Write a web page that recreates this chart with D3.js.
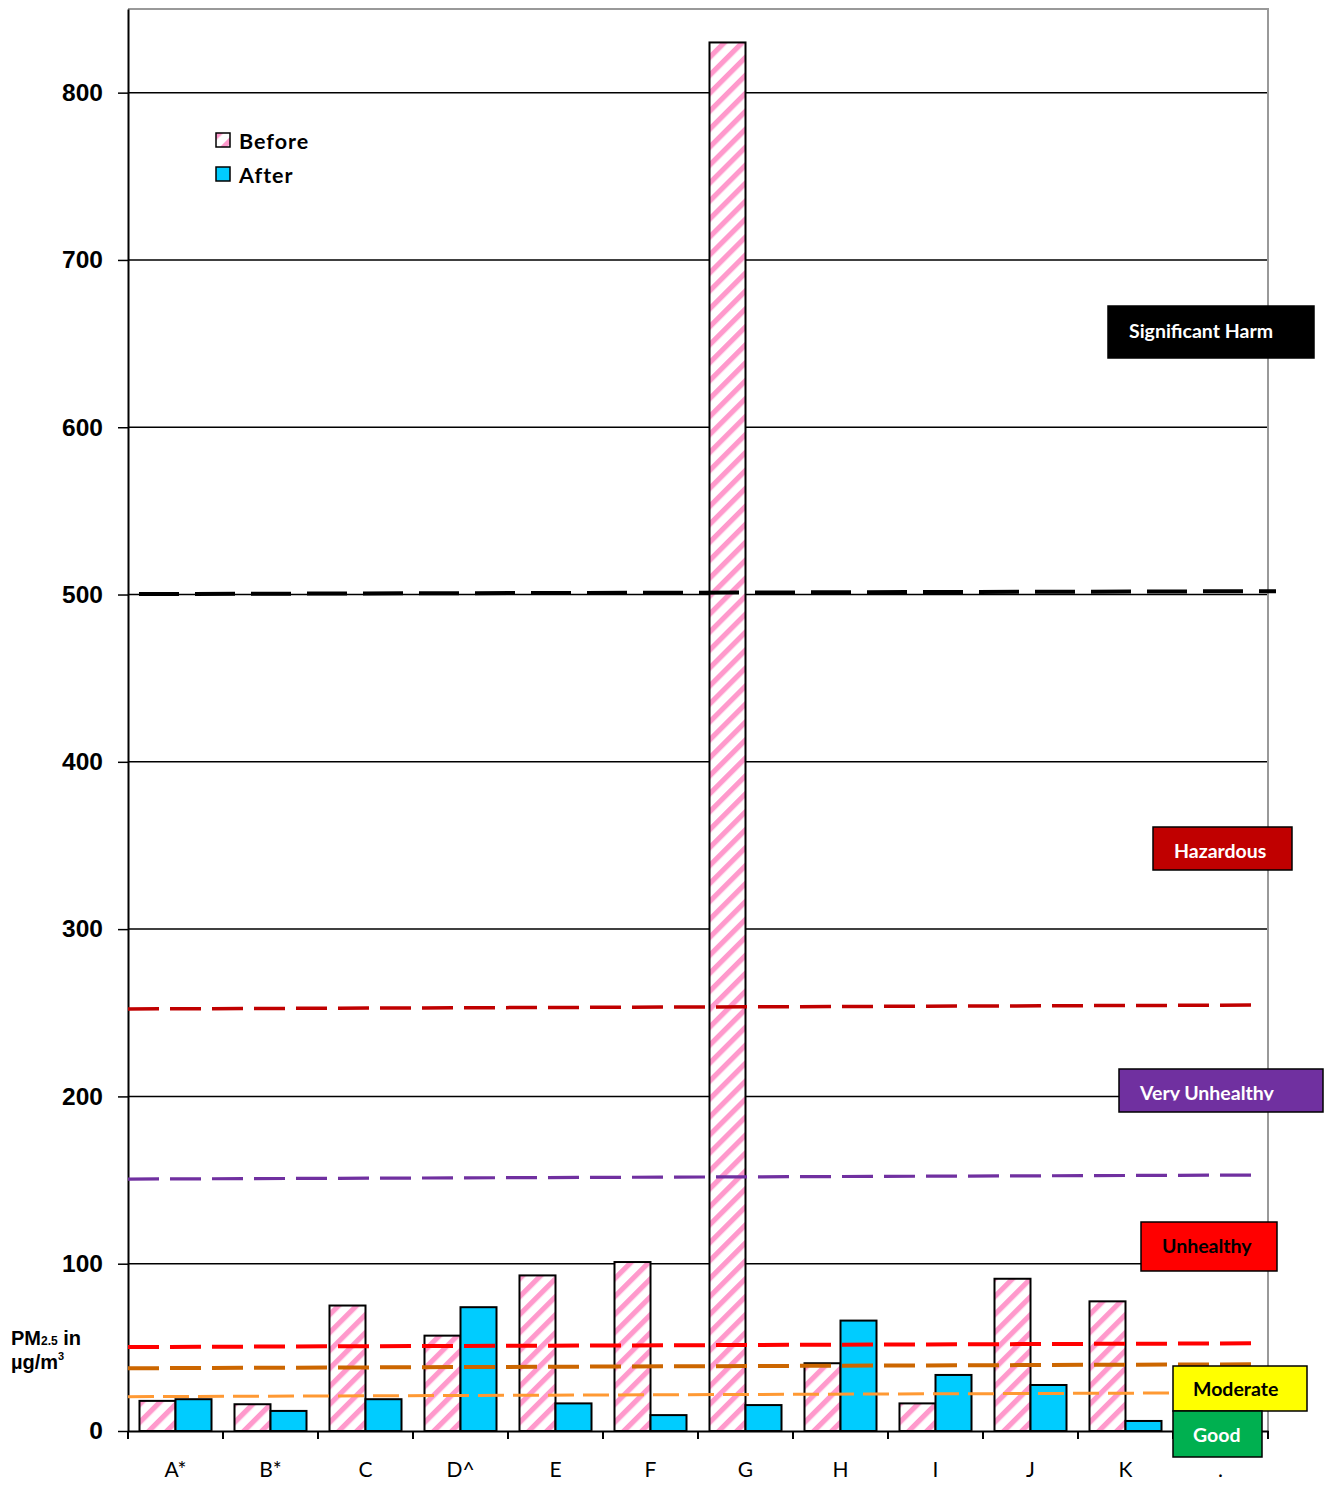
<!DOCTYPE html>
<html>
<head>
<meta charset="utf-8">
<style>
  body { margin: 0; background: #fff; }
</style>
</head>
<body>
<script src="https://cdnjs.cloudflare.com/ajax/libs/d3/7.8.5/d3.min.js"></script>
<svg id="chart" width="1328" height="1485"></svg>
<script>
// PM2.5 readings, before and after, per site
const sites = ['A*', 'B*', 'C', 'D^', 'E', 'F', 'G', 'H', 'I', 'J', 'K', '.'];
const before = [18, 16, 75, 57, 93, 101, 830, 40.5, 16.5, 91, 77.5, null];
const after = [19, 12, 19, 74, 16.5, 9.5, 15.5, 66, 33.5, 27.5, 6, null];
const yTicks = [0, 100, 200, 300, 400, 500, 600, 700, 800];

// breakpoint lines: value at the left end and at the right end (they drift a little)
const lineStart = [500.3, 252.3, 150.6, 50.2, 37.5, 20.5];
const lineEnd = [502, 254.6, 153, 52.4, 39.9, 22.9];

// category boxes
const levels = ['Significant Harm', 'Hazardous', 'Very Unhealthy', 'Unhealthy', 'Moderate', 'Good'];

// ---- styles / layout ----
const lineStyle = [
  {color: '#000000', w: 4, dash: '40,16', x1: 139, x2: 1276},
  {color: '#C00000', w: 3.5, dash: '31,11', x1: 128, x2: 1257},
  {color: '#7030A0', w: 3.2, dash: '31,11', x1: 128, x2: 1257},
  {color: '#FF0000', w: 4, dash: '31,11', x1: 128, x2: 1257},
  {color: '#CC6600', w: 4, dash: '31,11', x1: 128, x2: 1257},
  {color: '#FF9933', w: 3, dash: '26,9', x1: 128, x2: 1257}
];
const boxStyle = [
  {fill: '#000000', text: '#fff', x: 1108, y: 306, w: 206, h: 52, tx: 21, ty: 32},
  {fill: '#C00000', text: '#fff', x: 1153, y: 827, w: 139, h: 43, tx: 21, ty: 31},
  {fill: '#7030A0', text: '#fff', x: 1119, y: 1069, w: 204, h: 43, tx: 21, ty: 31, clip: true},
  {fill: '#FF0000', text: '#000', x: 1141, y: 1222, w: 136, h: 49, tx: 21, ty: 31},
  {fill: '#FFFF00', text: '#000', x: 1173, y: 1366, w: 134, h: 45, tx: 20, ty: 30},
  {fill: '#00B050', text: '#fff', x: 1173, y: 1411, w: 89, h: 46, tx: 20, ty: 31}
];

const plot = {left: 128, right: 1268, top: 9, bottom: 1431};
const svg = d3.select('#chart');

const x0 = d3.scaleBand()
  .domain(sites)
  .range([plot.left, plot.right])
  .paddingInner(0.242)
  .paddingOuter(0.121);
const x1 = d3.scaleBand()
  .domain(['before', 'after'])
  .range([0, x0.bandwidth()]);
const y = d3.scaleLinear()
  .domain([0, 850])
  .range([plot.bottom, plot.top]);

// pink hatch for "before"
const defs = svg.append('defs');
const pat = defs.append('pattern')
  .attr('id', 'hatch')
  .attr('patternUnits', 'userSpaceOnUse')
  .attr('width', 12.7)
  .attr('height', 12.7)
  .attr('patternTransform', 'rotate(45)');
pat.append('rect').attr('width', 12.7).attr('height', 12.7).attr('fill', '#fff');
pat.append('rect').attr('width', 5.2).attr('height', 12.7).attr('fill', '#FF99CC');

// gridlines
svg.append('g')
  .selectAll('line')
  .data(yTicks.filter(d => d > 0))
  .join('line')
  .attr('x1', plot.left)
  .attr('x2', plot.right)
  .attr('y1', d => y(d))
  .attr('y2', d => y(d))
  .attr('stroke', '#000')
  .attr('stroke-width', 1.5);

// grey frame top and right
svg.append('path')
  .attr('d', `M${plot.left},${plot.top}H${plot.right}V${plot.bottom}`)
  .attr('fill', 'none')
  .attr('stroke', '#999')
  .attr('stroke-width', 2);

// bars
const rows = sites.map((s, i) => ({site: s, before: before[i], after: after[i]}));
const groups = svg.append('g')
  .selectAll('g')
  .data(rows)
  .join('g')
  .attr('transform', d => `translate(${x0(d.site)},0)`);

groups.selectAll('rect')
  .data(d => [{k: 'before', v: d.before}, {k: 'after', v: d.after}].filter(e => e.v != null))
  .join('rect')
  .attr('x', e => x1(e.k))
  .attr('width', x1.bandwidth())
  .attr('y', e => y(e.v))
  .attr('height', e => y(0) - y(e.v))
  .attr('fill', e => e.k === 'before' ? 'url(#hatch)' : '#00CCFF')
  .attr('stroke', '#000')
  .attr('stroke-width', 2);

// y axis
const gy = svg.append('g')
  .attr('transform', `translate(${plot.left},0)`)
  .call(d3.axisLeft(y).tickValues(yTicks).tickSize(10).tickSizeOuter(0).tickPadding(15));
gy.select('.domain').attr('stroke', '#000').attr('stroke-width', 2);
gy.selectAll('.tick line').attr('stroke', '#000').attr('stroke-width', 1.5);
gy.selectAll('.tick text')
  .attr('font-family', '"Liberation Sans", Arial, sans-serif')
  .attr('font-weight', 'bold')
  .attr('font-size', 24.5)
  .attr('fill', '#000');

// x axis: labels centred, ticks on the band edges
const gx = svg.append('g')
  .attr('transform', `translate(0,${plot.bottom})`)
  .call(d3.axisBottom(x0).tickSize(0).tickSizeOuter(0).tickPadding(31));
gx.select('.domain').attr('stroke', '#000').attr('stroke-width', 2);
gx.selectAll('.tick text')
  .attr('font-family', 'Lato, sans-serif')
  .attr('font-size', 21)
  .attr('fill', '#000');

const edges = sites.map(s => x0(s) - x0.step() * x0.paddingInner() / 2).concat(plot.right);
gx.append('g')
  .selectAll('line')
  .data(edges)
  .join('line')
  .attr('x1', d => d)
  .attr('x2', d => d)
  .attr('y1', 0)
  .attr('y2', 8)
  .attr('stroke', '#000')
  .attr('stroke-width', 2);

// breakpoint lines
svg.append('g')
  .selectAll('line')
  .data(lineStart.map((v, i) => ({v0: v, v1: lineEnd[i], s: lineStyle[i]})))
  .join('line')
  .attr('x1', d => d.s.x1)
  .attr('x2', d => d.s.x2)
  .attr('y1', d => y(d.v0))
  .attr('y2', d => y(d.v1))
  .attr('stroke', d => d.s.color)
  .attr('stroke-width', d => d.s.w)
  .attr('stroke-dasharray', d => d.s.dash);

// legend
const legend = svg.append('g').attr('transform', 'translate(216,133)');
[['Before', 'url(#hatch)'], ['After', '#00CCFF']].forEach(([name, fill], i) => {
  const row = legend.append('g').attr('transform', `translate(0,${i * 34})`);
  row.append('rect')
    .attr('width', 14).attr('height', 14)
    .attr('fill', fill)
    .attr('stroke', '#000').attr('stroke-width', 1.5);
  row.append('text')
    .attr('x', 23).attr('y', 16)
    .attr('font-family', 'Lato, sans-serif')
    .attr('font-weight', 'bold')
    .attr('font-size', 21.5)
    .attr('letter-spacing', 1)
    .attr('fill', '#000')
    .text(name);
});

// category boxes
defs.append('clipPath').attr('id', 'vuClip')
  .append('rect').attr('x', 0).attr('y', 0).attr('width', 204).attr('height', 31.5);

const boxes = svg.append('g')
  .selectAll('g')
  .data(levels.map((name, i) => ({name, s: boxStyle[i]})))
  .join('g')
  .attr('transform', d => `translate(${d.s.x},${d.s.y})`);
boxes.append('rect')
  .attr('width', d => d.s.w)
  .attr('height', d => d.s.h)
  .attr('fill', d => d.s.fill)
  .attr('stroke', '#000')
  .attr('stroke-width', 1.5);
boxes.append('text')
  .attr('x', d => d.s.tx)
  .attr('y', d => d.s.ty)
  .attr('clip-path', d => d.s.clip ? 'url(#vuClip)' : null)
  .attr('font-family', 'Lato, sans-serif')
  .attr('font-weight', 'bold')
  .attr('font-size', 19.5)
  .attr('fill', d => d.s.text)
  .text(d => d.name);

// y axis title
const tFont = '"Liberation Sans", Arial, sans-serif';
const t1 = svg.append('text')
  .attr('x', 11).attr('y', 1345)
  .attr('font-family', tFont).attr('font-weight', 'bold').attr('font-size', 20);
t1.append('tspan').text('PM');
t1.append('tspan').attr('font-size', 12).text('2.5');
t1.append('tspan').text(' in');
const t2 = svg.append('text')
  .attr('x', 11).attr('y', 1369)
  .attr('font-family', tFont).attr('font-weight', 'bold').attr('font-size', 20);
t2.append('tspan').text('\u00b5g/m');
t2.append('tspan').attr('font-size', 11).attr('dy', -9).text('3');
</script>
</body>
</html>
